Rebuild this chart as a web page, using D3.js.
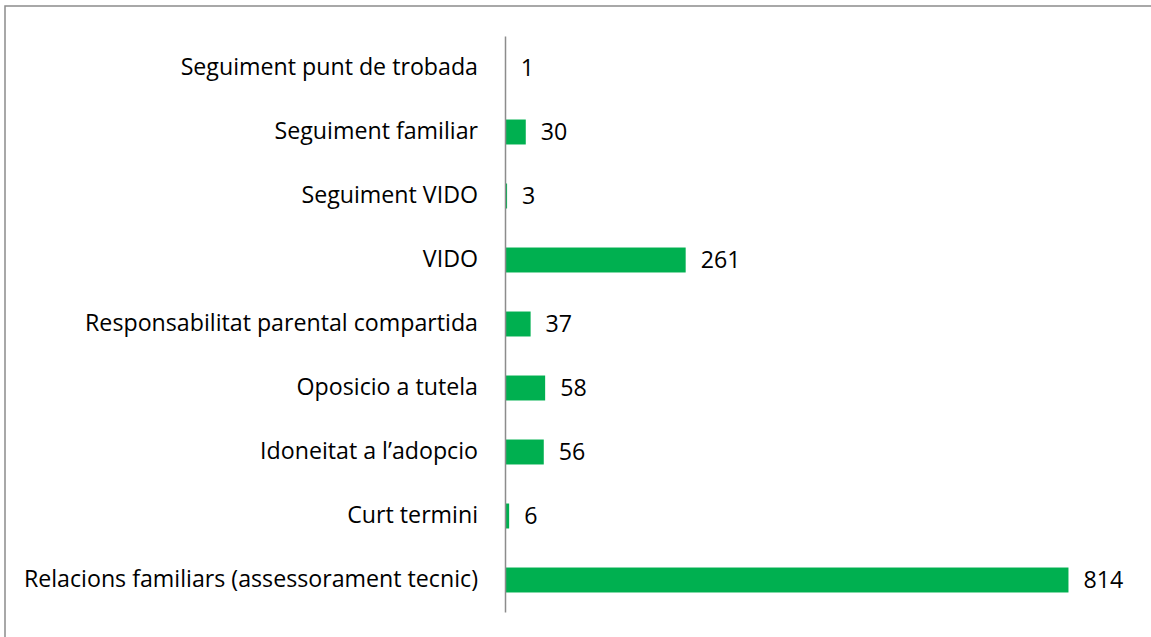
<!DOCTYPE html>
<html>
<head>
<meta charset="utf-8">
<script src="https://cdn.jsdelivr.net/npm/d3@7"></script>
<style>
  body { margin: 0; background: #fff; }
  svg { display: block; }
</style>
</head>
<body>
<svg class="grafic" width="1151" height="637"></svg>
<script>
// categories from top to bottom
const categories = [
  "Seguiment punt de trobada",
  "Seguiment familiar",
  "Seguiment VIDO",
  "VIDO",
  "Responsabilitat parental compartida",
  "Oposicio a tutela",
  "Idoneitat a l\u2019adopcio",
  "Curt termini",
  "Relacions familiars (assessorament tecnic)"
]
const values = [1, 30, 3, 261, 37, 58, 56, 6, 814]

const svg = d3.select('.grafic')

// chart border
svg.append('rect')
  .attr('x', 5).attr('y', 6)
  .attr('width', 1160).attr('height', 650)
  .attr('fill', 'white')
  .attr('stroke', '#8c8c8c')
  .attr('stroke-width', 1.5)

const x = d3.scaleLinear()
  .domain([0, 900])
  .range([505, 1128])

const y = d3.scaleBand()
  .domain(categories)
  .range([36, 612])
  .paddingInner(0.61)
  .paddingOuter(0.305)

const fuente = "'Open Sans', sans-serif"
const tam = 23.2

svg.selectAll('rect.barra')
  .data(values)
  .join('rect')
  .classed('barra', true)
  .attr('x', x(0))
  .attr('y', (d, i) => y(categories[i]))
  .attr('width', d => x(d) - x(0))
  .attr('height', y.bandwidth())
  .attr('fill', '#00b050')

// category axis
const eje = svg.append('g')
  .attr('transform', `translate(${x(0)},0)`)
  .call(d3.axisLeft(y).tickSize(0).tickPadding(27))
eje.select('.domain').attr('stroke', '#8c8c8c').attr('stroke-width', 1.5)
eje.selectAll('text')
  .attr('font-family', fuente)
  .attr('font-size', tam)
  .attr('fill', '#000')

// value labels
svg.selectAll('text.valor')
  .data(values)
  .join('text')
  .classed('valor', true)
  .attr('x', d => x(d) + 15)
  .attr('y', (d, i) => y(categories[i]) + y.bandwidth() / 2)
  .attr('dy', '0.35em')
  .attr('font-family', fuente)
  .attr('font-size', tam)
  .attr('fill', '#000')
  .text(d => d)
</script>
</body>
</html>
